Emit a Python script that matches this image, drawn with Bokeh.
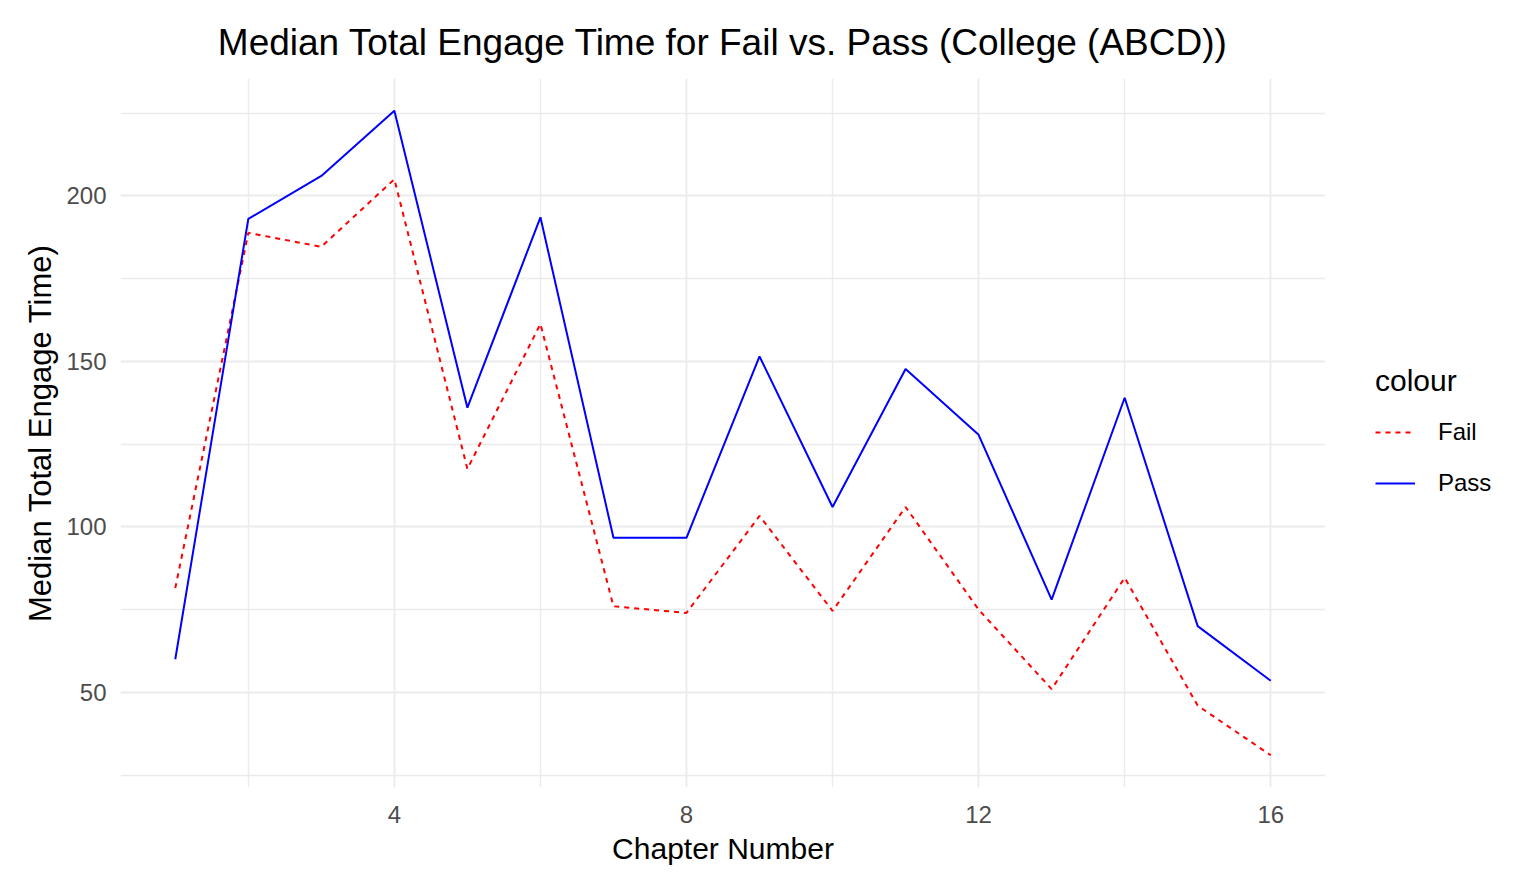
from bokeh.plotting import figure
from bokeh.models import FixedTicker, Legend, LegendItem, Range1d
from bokeh.layouts import row
from bokeh.embed import file_html
from bokeh.resources import INLINE

chapters = list(range(1, 17))
pass_values = [60, 193, 206, 225.7, 136, 193.5, 96.7, 96.7, 151.5, 106, 147.7, 127.8, 78, 139, 70, 53.5]
fail_values = [81.5, 188.8, 184.6, 205, 117.5, 161.3, 76, 74, 103.3, 74.6, 106, 75, 51, 84.6, 46, 31]
x_ticks = [4, 8, 12, 16]
x_minor = [2, 6, 10, 14]
y_ticks = [50, 100, 150, 200]
y_minor = [25, 75, 125, 175, 225]
series_names = ["Fail", "Pass"]
series_colors = ["#ff0000", "#0000ff"]
series_dashes = ["5 5", "solid"]

FONT = "Liberation Sans"

p = figure(width=1325, height=877, output_backend="svg", toolbar_location=None,
           title="Median Total Engage Time for Fail vs. Pass (College (ABCD))",
           x_axis_label="Chapter Number", y_axis_label="Median Total Engage Time)",
           min_border_left=120, min_border_right=0, min_border_top=78, min_border_bottom=90)

xmin, xmax = min(chapters), max(chapters)
allv = pass_values + fail_values
ymin, ymax = min(allv), max(allv)
p.x_range = Range1d(xmin - 0.05 * (xmax - xmin), xmax + 0.05 * (xmax - xmin))
p.y_range = Range1d(ymin - 0.05 * (ymax - ymin), ymax + 0.05 * (ymax - ymin))

p.line(chapters, fail_values, line_color=series_colors[0], line_width=2, line_dash=series_dashes[0])
p.line(chapters, pass_values, line_color=series_colors[1], line_width=2, line_dash=series_dashes[1])

p.title.text_font = FONT
p.title.text_font_size = "37px"
p.title.text_font_style = "normal"
p.title.text_color = "#000000"
p.title.align = "center"
p.title.standoff = 32

p.outline_line_color = None
p.background_fill_color = "white"
p.border_fill_color = "white"

p.xaxis.ticker = FixedTicker(ticks=x_ticks, minor_ticks=x_minor)
p.yaxis.ticker = FixedTicker(ticks=y_ticks, minor_ticks=y_minor)

for ax in (p.xaxis[0], p.yaxis[0]):
    ax.axis_line_color = None
    ax.major_tick_line_color = None
    ax.minor_tick_line_color = None
    ax.major_tick_out = 0
    ax.major_tick_in = 0
    ax.minor_tick_out = 0
    ax.minor_tick_in = 0
    ax.major_label_text_font = FONT
    ax.major_label_text_font_size = "24px"
    ax.major_label_text_color = "#4d4d4d"
    ax.axis_label_text_font = FONT
    ax.axis_label_text_font_size = "30px"
    ax.axis_label_text_font_style = "normal"
    ax.axis_label_text_color = "#000000"

p.yaxis.axis_label_text_font_size = "31px"
p.xaxis.major_label_standoff = 18
p.xaxis.axis_label_standoff = 6
p.yaxis.major_label_standoff = 14
p.yaxis.axis_label_standoff = 5

for g in (p.xgrid[0], p.ygrid[0]):
    g.grid_line_color = "#ebebeb"
    g.grid_line_width = 1.8
    g.minor_grid_line_color = "#ebebeb"
    g.minor_grid_line_width = 1.4
p.xgrid.ticker = FixedTicker(ticks=x_ticks, minor_ticks=x_minor)
p.ygrid.ticker = FixedTicker(ticks=y_ticks, minor_ticks=y_minor)

# legend panel to the right of the plotting area
lg = figure(width=189, height=877, output_backend="svg", toolbar_location=None,
            x_axis_type=None, y_axis_type=None,
            x_range=Range1d(0, 1), y_range=Range1d(0, 1),
            min_border_left=0, min_border_right=0, min_border_top=0, min_border_bottom=0)
lg.outline_line_color = None
lg.grid.visible = False
lg.background_fill_color = "white"
lg.border_fill_color = "white"
items = []
for name, col, dash in zip(series_names, series_colors, series_dashes):
    # placeholder renderer kept outside the visible range; it only supplies the legend glyph
    r = lg.line([-10, -9], [-10, -9], line_color=col, line_width=2, line_dash=dash)
    items.append(LegendItem(label=name, renderers=[r]))

legend = Legend(items=items, location=(50, 284), title="colour")
legend.title_text_font = FONT
legend.title_text_font_size = "30px"
legend.title_text_font_style = "normal"
legend.title_text_color = "#000000"
legend.title_standoff = 14
legend.label_text_font = FONT
legend.label_text_font_size = "24px"
legend.label_text_color = "#000000"
legend.label_standoff = 23
legend.glyph_width = 40
legend.glyph_height = 40
legend.label_height = 40
legend.spacing = 11
legend.padding = 0
legend.margin = 0
legend.border_line_color = None
legend.background_fill_alpha = 0
lg.add_layout(legend, "center")

layout = row(p, lg, spacing=0)
open("out.html", "w").write(file_html(layout, INLINE))
